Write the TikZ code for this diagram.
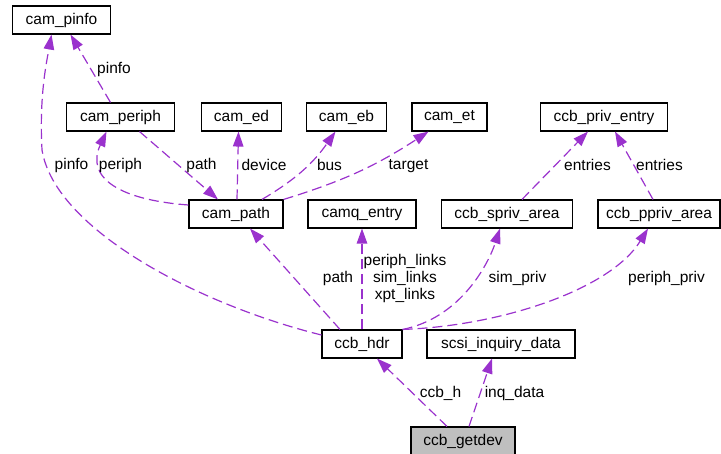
\documentclass[tikz,border=0pt]{standalone}
\usepackage{fontspec}
\setmainfont{Liberation Sans}
\usetikzlibrary{arrows.meta,calc}
\definecolor{EdgeOrchid}{HTML}{9A32CD}
\definecolor{BoxGrey}{HTML}{BFBFBF}

\begin{document}
\begin{tikzpicture}[x=1pt,y=-1pt,
    font=\fontsize{15.5}{17}\selectfont,
    cls/.style={draw=black,line width=1.1pt,minimum height=28pt,inner sep=0pt,fill=white},
    lbl/.style={inner sep=0pt,align=center},
    use/.style={-{Triangle[length=15pt,width=10.5pt]},EdgeOrchid,line width=1.2pt,dash pattern=on 10pt off 5pt}
  ]
  \useasboundingbox (0,0) rectangle (721,454);

  \node[cls,minimum width=98pt] (cam_pinfo) at (61.5,20) {cam\_pinfo};
  \node[cls,minimum width=108pt] (cam_periph) at (120.5,117) {cam\_periph};
  \node[cls,minimum width=80pt] (cam_ed) at (241.5,117) {cam\_ed};
  \node[cls,minimum width=80pt] (cam_eb) at (346.5,117) {cam\_eb};
  \node[cls,minimum width=75pt] (cam_et) at (449.5,117) {cam\_et};
  \node[cls,minimum width=127pt] (ccb_priv_entry) at (604,117) {ccb\_priv\_entry};
  \node[cls,minimum width=94pt] (cam_path) at (236,214) {cam\_path};
  \node[cls,minimum width=108pt] (camq_entry) at (362,214) {camq\_entry};
  \node[cls,minimum width=131pt] (ccb_spriv_area) at (507,214) {ccb\_spriv\_area};
  \node[cls,minimum width=122pt] (ccb_ppriv_area) at (659,214) {ccb\_ppriv\_area};
  \node[cls,minimum width=80pt] (ccb_hdr) at (362,344) {ccb\_hdr};
  \node[cls,minimum width=148pt] (scsi_inquiry_data) at (501,344) {scsi\_inquiry\_data};
  \node[cls,minimum width=104pt,fill=BoxGrey] (ccb_getdev) at (463,441) {ccb\_getdev};

  \draw[use] ($(cam_periph.north)+(-10,0)$) -- ($(cam_pinfo.south)+(9,0)$);
  \draw[use] ($(ccb_hdr.west)+(0,-9)$) .. controls (200,305) and (55,230) .. (42,150)
    .. controls (39,95) and (47,60) .. ($(cam_pinfo.south)+(-10,0)$);
  \draw[use] ($(cam_path.west)+(0,-9)$) .. controls (120,200) and (85,178) .. ($(cam_periph.south)+(-14,0)$);
  \draw[use] ($(cam_periph.south)+(19,0)$) -- ($(cam_path.north)+(-18,0)$);
  \draw[use] ($(cam_path.north)+(1,0)$) -- ($(cam_ed.south)+(-3,0)$);
  \draw[use] ($(cam_path.north)+(26,0)$) to[bend right=12] ($(cam_eb.south)+(-11,0)$);
  \draw[use] (cam_path.north east) to[bend right=8] ($(cam_et.south)+(-21,0)$);
  \draw[use] ($(ccb_hdr.north)+(-22,0)$) -- ($(cam_path.south)+(14,0)$);
  \draw[use] (ccb_hdr.north) -- (camq_entry.south);
  \draw[use] (ccb_hdr.north east) .. controls (460,318) and (488,265) .. ($(ccb_spriv_area.south)+(-7,0)$);
  \draw[use] (ccb_hdr.north east) .. controls (500,326) and (610,290) .. ($(ccb_ppriv_area.south)+(-11,0)$);
  \draw[use] ($(ccb_spriv_area.north)+(15,0)$) -- ($(ccb_priv_entry.south)+(-16,0)$);
  \draw[use] ($(ccb_ppriv_area.north)+(-6,0)$) -- ($(ccb_priv_entry.south)+(11,0)$);
  \draw[use] ($(ccb_getdev.north)+(-16,0)$) -- ($(ccb_hdr.south)+(15,0)$);
  \draw[use] ($(ccb_getdev.north)+(6,0)$) -- ($(scsi_inquiry_data.south)+(-9,0)$);

  \node[lbl] (l_pinfo_a) at (114,69) {pinfo};
  \node[lbl] (l_pinfo_b) at (71.5,165) {pinfo};
  \node[lbl] (l_periph) at (120.5,165) {periph};
  \node[lbl] (l_path_a) at (201.5,165) {path};
  \node[lbl] (l_device) at (264,165) {device};
  \node[lbl] (l_bus) at (329.5,165) {bus};
  \node[lbl] (l_target) at (408.5,166) {target};
  \node[lbl] (l_path_b) at (338,278) {path};
  \node[lbl] (l_links) at (405,278) {periph\_links\\sim\_links\\xpt\_links};
  \node[lbl] (l_sim_priv) at (517.5,278) {sim\_priv};
  \node[lbl] (l_periph_priv) at (666.5,278) {periph\_priv};
  \node[lbl] (l_entries_a) at (587.5,165) {entries};
  \node[lbl] (l_entries_b) at (659.5,165) {entries};
  \node[lbl] (l_ccb_h) at (440.5,393) {ccb\_h};
  \node[lbl] (l_inq_data) at (514.5,393) {inq\_data};
\end{tikzpicture}
\end{document}
